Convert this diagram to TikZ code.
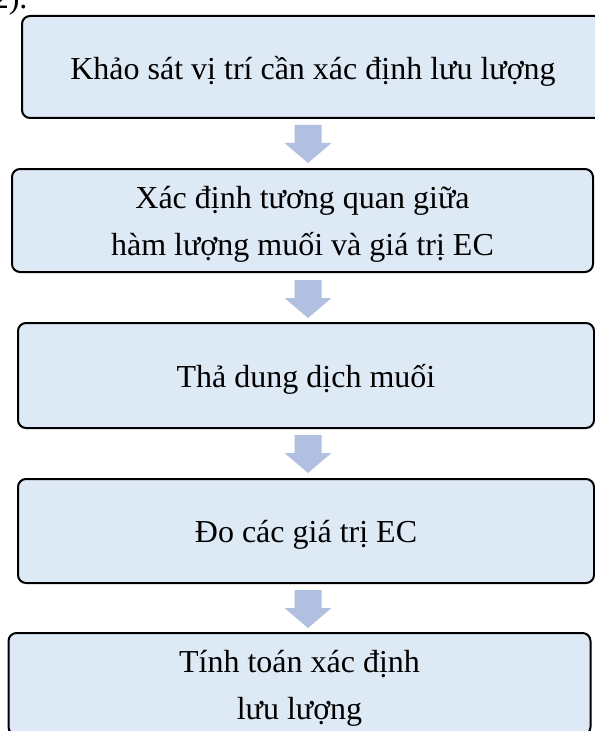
\documentclass[tikz,border=0pt]{standalone}
\usepackage{fontspec}
\setmainfont{Liberation Serif}
\definecolor{boxfill}{RGB}{222,233,246}
\definecolor{arrowfill}{RGB}{177,191,225}
\newcommand{\lowertext}[1]{\raisebox{-3pt}[\height][\depth]{#1}}
\tikzset{every picture/.style={line width=0.75pt}}

\begin{document}
\begin{tikzpicture}[x=0.75pt,y=0.75pt,yscale=-1,xscale=1,
  stepbox/.style={draw=black,fill=boxfill,rounded corners=6pt,line width=1.5pt,inner sep=0pt,align=center,font=\fontsize{24}{35}\selectfont},
  downarrow/.style={fill=arrowfill,draw=none}]
\useasboundingbox (0,0) rectangle (595,731);

% Text Node
\node [anchor=base east,inner sep=0pt,font=\fontsize{24}{35}\selectfont] (prev) at (28,9) {2).};

%Shape: Rounded Rectangle
\node [stepbox,minimum width=436.5pt,minimum height=76.5pt] (khaosat) at (313,67) {\lowertext{Khảo sát vị trí cần xác định lưu lượng}};
%Shape: Rounded Rectangle
\node [stepbox,minimum width=435.75pt,minimum height=77.25pt] (tuongquan) at (302.5,220.5) {\lowertext{Xác định tương quan giữa}\\\lowertext{hàm lượng muối và giá trị EC}};
%Shape: Rounded Rectangle
\node [stepbox,minimum width=432pt,minimum height=78.75pt] (thamuoi) at (306,375.5) {\lowertext{Thả dung dịch muối}};
%Shape: Rounded Rectangle
\node [stepbox,minimum width=432pt,minimum height=78pt] (doec) at (306,531) {\lowertext{Đo các giá trị EC}};
%Shape: Rounded Rectangle
\node [stepbox,minimum width=436.5pt,minimum height=76.5pt] (tinhtoan) at (299.5,684) {\lowertext{Tính toán xác định}\\\lowertext{lưu lượng}};

%Shape: Down Arrow
\foreach \ay in {144,299,454,609}
  \fill [downarrow,shift={(308,\ay)}] (-13.5,-19) -- (13.5,-19) -- (13.5,-1) -- (23.5,-1) -- (0,19) -- (-23.5,-1) -- (-13.5,-1) -- cycle ;

\end{tikzpicture}
\end{document}
